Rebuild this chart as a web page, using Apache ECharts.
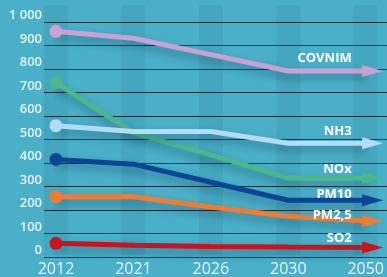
<!DOCTYPE html>
<html>
<head>
<meta charset="utf-8">
<script src="https://cdn.jsdelivr.net/npm/echarts@6/dist/echarts.min.js"></script>
<style>
  html, body { margin: 0; padding: 0; background: #4aafc9; }
  #chart { width: 387px; height: 277px; }
</style>
</head>
<body>
<div id="chart"></div>
<script>
// données
const years = ['2012', '2021', '2026', '2030', '2050'];
const covnim = [960, 930, 860, 790, 790];
const nh3 = [555, 530, 530, 480, 480];
const nox = [740, 525, 430, 330, 330];
const pm10 = [410, 390, 312, 235, 235];
const pm25 = [250, 250, 206, 166, 146];
const so2 = [50, 42, 37, 34, 32];
const stripes = [1072, 1072, 1072, 1072, 1072]; // bandes verticales

let chart = echarts.init(document.getElementById('chart'));

// une série = une ligne avec un rond au début et une flèche à la fin
function makeLine(name, values, color, labelDy) {
    const data = values.map((v, i) => {
        if (i === 0) {
            return { value: v, symbol: 'circle', symbolSize: 13 };
        }
        if (i === values.length - 1) {
            return {
                value: v,
                symbol: 'triangle',
                symbolSize: [12, 21],
                symbolRotate: -90,
                symbolOffset: [7, 0]
            };
        }
        return { value: v, symbol: 'none' };
    });
    return {
        name: name,
        type: 'line',
        xAxisIndex: 1,
        yAxisIndex: 1,
        data: data,
        clip: false,
        color: color,
        itemStyle: { color: color, opacity: 1 },
        lineStyle: {
            width: 5,
            color: color,
            shadowColor: 'rgba(0, 30, 50, 0.35)',
            shadowBlur: 8,
            shadowOffsetY: 5
        },
        endLabel: {
            show: true,
            formatter: name,
            align: 'right',
            verticalAlign: 'middle',
            distance: 0,
            offset: [-14, -labelDy],
            color: '#ffffff',
            fontFamily: 'Open Sans',
            fontWeight: 700,
            fontSize: 13
        },
        emphasis: { disabled: true },
        animation: false
    };
}

chart.setOption({
    backgroundColor: '#4aafc9',
    grid: [
        { left: 44, right: 0, top: 22, bottom: 20 }, // fond : lignes + graduations
        { left: 56, right: 19, top: 22, bottom: 20 } // courbes
    ],
    xAxis: [
        {
            type: 'category',
            gridIndex: 0,
            data: years,
            show: false
        },
        {
            type: 'category',
            gridIndex: 1,
            data: years,
            boundaryGap: false,
            axisLine: { show: false },
            axisTick: { show: false },
            axisLabel: {
                color: '#e6f4f8',
                fontFamily: 'Open Sans',
                fontSize: 16,
                margin: 6
            }
        }
    ],
    yAxis: [
        {
            type: 'value',
            gridIndex: 0,
            min: 0,
            max: 1000,
            interval: 100,
            axisLine: { show: false },
            axisTick: { show: false },
            axisLabel: {
                color: '#e8f5f9',
                fontFamily: 'Open Sans',
                fontWeight: 600,
                fontSize: 13,
                margin: 2,
                verticalAlign: 'bottom',
                formatter: v => v === 1000 ? '1 000' : String(v)
            },
            splitLine: { lineStyle: { color: '#16343e', width: 1 } }
        },
        {
            type: 'value',
            gridIndex: 1,
            min: 0,
            max: 1000,
            interval: 100,
            show: false,
            splitLine: { show: false }
        }
    ],
    series: [
        {
            type: 'bar',
            xAxisIndex: 1,
            yAxisIndex: 1,
            data: stripes,
            barWidth: 24,
            clip: false,
            itemStyle: { color: 'rgba(0, 50, 70, 0.07)' },
            silent: true,
            animation: false,
            z: 0
        },
        makeLine('SO2', so2, '#c8141c', 9),
        makeLine('PM2,5', pm25, '#ee7d33', 6),
        makeLine('PM10', pm10, '#0b4593', 6),
        makeLine('NOx', nox, '#4cb78c', 9),
        makeLine('NH3', nh3, '#b5dcf5', 12),
        makeLine('COVNIM', covnim, '#c8a2d4', 13)
    ]
});
</script>
</body>
</html>
